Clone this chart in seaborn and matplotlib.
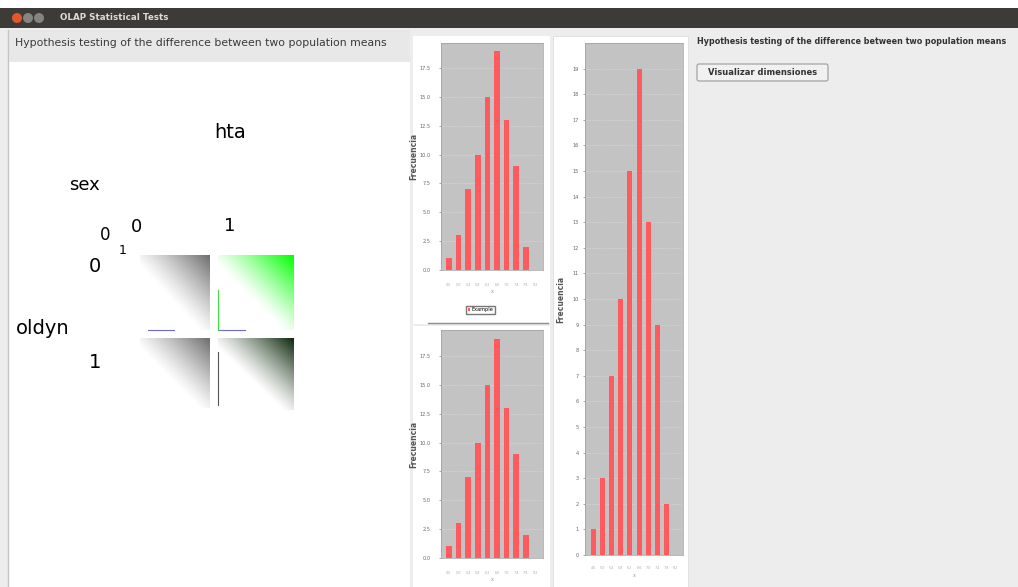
import matplotlib
matplotlib.use("Agg")
import matplotlib.pyplot as plt
from matplotlib.patches import Rectangle, FancyBboxPatch, Circle, Patch
import numpy as np
import pandas as pd
import seaborn as sns

W, H = 1018, 587

# texts of the window
window_title = "OLAP Statistical Tests"
panel_title = "Hypothesis testing of the difference between two population means"
button_label = "Visualizar dimensiones"

# cube dimensions and their members
dim_names = ["hta", "sex", "oldyn"]
dim_members = ["0", "1"]

# histogram data (same sample in the three charts)
bin_labels = ["4.6", "5.0", "5.4", "5.8", "6.2", "6.6", "7.0", "7.4", "7.8", "8.2"]
frequencies = [1, 3, 7, 10, 15, 19, 13, 9, 2, 0]
series_name = "Example"
y_label = "Frecuencia"
x_label = "x"

fig = plt.figure(figsize=(W / 100, H / 100), dpi=100)
bg = fig.add_axes([0, 0, 1, 1])
bg.axis("off")


def px_rect(x, y, w, h):
    return [x / W, 1 - (y + h) / H, w / W, h / H]


def box(x, y, w, h, fc, ec="none", lw=0.0):
    bg.add_patch(Rectangle((x, y), w, h, fc=fc, ec=ec, lw=lw))


# window frame
box(0, 0, W, H, "#ededed")
box(0, 0, W, 8, "white")
box(0, 8, W, 20, "#3c3b37")
bg.add_patch(Circle((17, 18), 5, fc="#e2572b"))
bg.add_patch(Circle((28, 18), 5, fc="#85847f"))
bg.add_patch(Circle((39, 18), 5, fc="#85847f"))
bg.text(60, 18, window_title, fontsize=6.3, fontweight="bold", color="#dfdbd2", va="center")

# left panel
box(10, 30, 400, 32, "#e8e8e8")
box(8, 62, 402, 525, "white")
bg.plot([8, 8], [30, 587], color="#c4c4c4", lw=1)
bg.text(15, 43, panel_title, fontsize=7.8, color="#3a3a3a", va="center")

# cube view: labels
bg.text(230, 132, dim_names[0], fontsize=14, ha="center", va="center")
bg.text(84, 185, dim_names[1], fontsize=13, ha="center", va="center")
bg.text(43, 329, dim_names[2], fontsize=14, ha="center", va="center")
bg.text(105, 235, dim_members[0], fontsize=12, ha="center", va="center")
bg.text(137, 227, dim_members[0], fontsize=13, ha="center", va="center")
bg.text(123, 251, dim_members[1], fontsize=9, ha="center", va="center")
bg.text(230, 226, dim_members[1], fontsize=13, ha="center", va="center")
bg.text(95, 267, dim_members[0], fontsize=14, ha="center", va="center")
bg.text(95, 362, dim_members[1], fontsize=14, ha="center", va="center")


def gradient_cell(x0, y0, x1, y1, rgb, strength):
    # dark corner top-right, fading out towards bottom-left
    n = 80
    u = np.linspace(0, 1, n)[None, :]
    v = np.linspace(1, 0, n)[:, None]
    t = np.clip((u + v - 0.85) / 1.15, 0, 1) ** 1.2 * strength
    img = np.zeros((n, n, 4))
    img[..., :3] = rgb
    img[..., 3] = t
    bg.imshow(img, extent=(x0, x1, y1, y0), origin="upper", aspect="auto",
              interpolation="bilinear", zorder=2)


gradient_cell(140, 255, 210, 330, (0.40, 0.40, 0.40), 0.95)
gradient_cell(218, 255, 294, 330, (0.0, 1.0, 0.0), 1.0)
gradient_cell(140, 338, 210, 408, (0.40, 0.40, 0.40), 0.95)
gradient_cell(218, 338, 294, 410, (0.05, 0.16, 0.05), 1.0)
bg.plot([148, 174], [330, 330], color="#6a6ad8", lw=0.8, zorder=3)
bg.plot([219, 245], [330, 330], color="#6a6ad8", lw=0.8, zorder=3)
bg.plot([218, 218], [290, 330], color="#3fdd3f", lw=0.8, zorder=3)
bg.plot([218, 218], [352, 405], color="#555555", lw=0.8, zorder=3)

# chart panels
box(413, 36, 137, 288, "white")
box(413, 326, 137, 261, "white")
box(553, 36, 135, 551, "white", ec="#dddddd", lw=0.6)
bg.plot([428, 548], [323, 323], color="#8c8c8c", lw=1)

# right panel
bg.text(697, 42, panel_title, fontsize=5.75, fontweight="bold", color="#333333", va="center")
bg.add_patch(FancyBboxPatch((697, 64), 131, 17, boxstyle="round,pad=0,rounding_size=2",
                            fc="#f1f1f1", ec="#9a9a9a", lw=0.8))
bg.text(762.5, 72.5, button_label, fontsize=6, fontweight="bold", color="#333333",
        ha="center", va="center")

bg.set_xlim(0, W)
bg.set_ylim(H, 0)

df = pd.DataFrame({"bin": bin_labels, "freq": frequencies})


def histogram(rect, ymax, ticks, ticklabels, xlim, width, ypad, xpad, lab_x, legend=False):
    ax = fig.add_axes(px_rect(*rect))
    sns.barplot(data=df, x="bin", y="freq", color="#ff5b5e", saturation=1,
                width=width, ax=ax, zorder=3)
    ax.set_facecolor("#c3c3c3")
    ax.set_xlim(*xlim)
    ax.set_ylim(0, ymax)
    ax.set_yticks(ticks)
    ax.set_yticklabels(ticklabels)
    ax.tick_params(axis="y", labelsize=3.6, colors="#666666", length=1.5, width=0.4, pad=ypad)
    ax.tick_params(axis="x", labelsize=2.4, colors="#aaaaaa", length=0, pad=xpad)
    ax.yaxis.grid(True, color="white", lw=0.4, ls=(0, (2, 2)), alpha=0.5)
    ax.set_axisbelow(True)
    ax.set_ylabel(y_label, fontsize=5.5, fontweight="bold", color="#555555")
    ax.yaxis.set_label_coords(lab_x, 0.5)
    ax.set_xlabel(x_label, fontsize=3.5, color="#999999", labelpad=2)
    for s in ax.spines.values():
        s.set_color("#9e9e9e")
        s.set_linewidth(0.5)
    if legend:
        ax.legend(handles=[Patch(fc="#ff5b5e", label=series_name)], loc="center",
                  bbox_to_anchor=(0.39, -0.176), fontsize=3.6, handlelength=0.5,
                  handleheight=0.5, handletextpad=0.3, borderpad=0.35,
                  fancybox=False, edgecolor="#777777", framealpha=1)
    return ax


half_ticks = [0, 2.5, 5, 7.5, 10, 12.5, 15, 17.5]
half_labels = ["0.0", "2.5", "5.0", "7.5", "10.0", "12.5", "15.0", "17.5"]
unit_ticks = list(range(0, 20))
unit_labels = [str(t) for t in unit_ticks]

histogram((441, 43, 102, 227), 19.67, half_ticks, half_labels, (-0.83, 9.79), 0.6,
          6, 9, -0.225, legend=True)
histogram((441, 330, 102, 228), 19.75, half_ticks, half_labels, (-0.83, 9.79), 0.6,
          6, 9, -0.225)
histogram((585, 43, 98, 512), 20.0, unit_ticks, unit_labels, (-0.93, 9.83), 0.55,
          3, 8, -0.2)

fig.savefig("out.png", dpi=100)
